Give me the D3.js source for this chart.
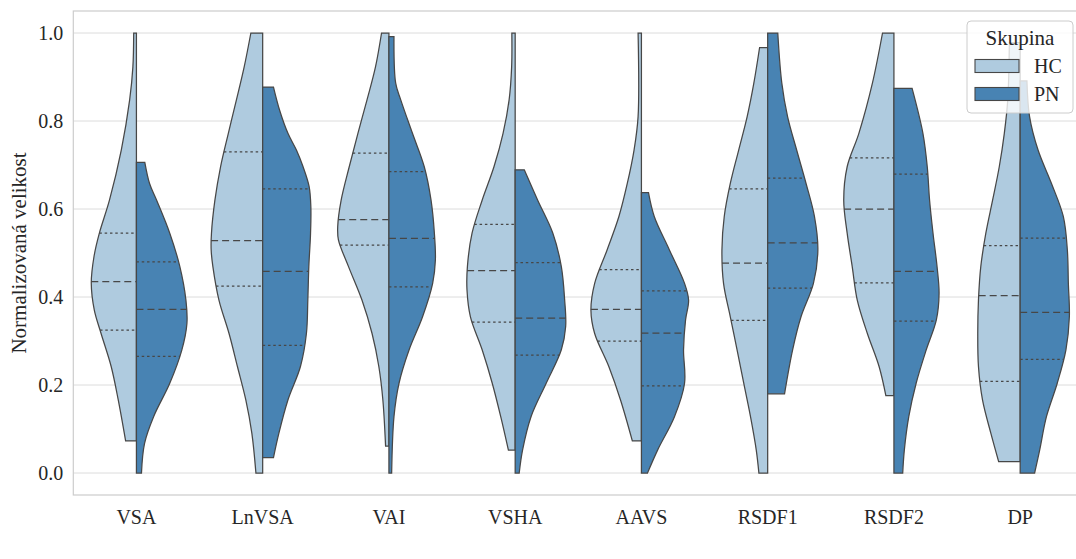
<!DOCTYPE html>
<html><head><meta charset="utf-8">
<script src="https://cdn.jsdelivr.net/npm/d3@7"></script>
<style>body{margin:0;background:#fff;}</style></head>
<body><svg id="viz" width="1076" height="559"></svg>
<script>
const categories = ["VSA","LnVSA","VAI","VSHA","AAVS","RSDF1","RSDF2","DP"];
const groups = ["HC","PN"];
const yTicks = [0,0.2,0.4,0.6,0.8,1.0];
const yTickLabels = ["0.0","0.2","0.4","0.6","0.8","1.0"];
const yLabel = "Normalizovaná velikost";
const legendTitle = "Skupina";

// density profiles: [value, relative density]
const vsaHC = [[1.0,2.7],[0.923,3.5],[0.848,6.7],[0.734,15],[0.62,26.7],[0.545,36.7],[0.492,42],[0.431,44.7],[0.37,41.7],[0.317,35],[0.242,25],[0.166,18],[0.073,10.7]];
const vsaPN = [[0.706,8.3],[0.658,13],[0.62,20],[0.545,33],[0.469,43],[0.393,49],[0.34,50],[0.28,45],[0.204,33],[0.128,17],[0.067,8],[0,5]];
const lnvsaHC = [[1.0,11.7],[0.923,18.3],[0.848,26],[0.772,34],[0.696,41.7],[0.62,47.3],[0.545,50.7],[0.507,51],[0.469,49.3],[0.393,43.3],[0.317,33.3],[0.242,25],[0.166,16.7],[0.09,10.7],[0,6.7]];
const lnvsaPN = [[0.877,10.7],[0.825,16.7],[0.772,25],[0.734,33.4],[0.696,40],[0.651,46],[0.605,47.7],[0.545,47.4],[0.469,45.7],[0.393,44.7],[0.317,43.3],[0.242,37.4],[0.166,25],[0.09,16],[0.035,10.7]];
const vaiHC = [[1.0,7.3],[0.923,13.3],[0.848,21.7],[0.772,30.7],[0.696,39.3],[0.62,47.3],[0.56,50.7],[0.53,50],[0.469,40],[0.393,26.7],[0.317,16.7],[0.242,10],[0.166,6],[0.061,3.3]];
const vaiPN = [[0.992,5],[0.886,6.7],[0.848,11.7],[0.772,23.3],[0.696,35],[0.62,41.7],[0.545,45],[0.484,46],[0.431,43.3],[0.355,33.3],[0.28,20],[0.204,10],[0.128,5],[0,2.7]];
const vshaHC = [[1.0,3.3],[0.923,3.5],[0.848,6],[0.772,12],[0.696,21],[0.62,32.7],[0.545,42.7],[0.469,47.3],[0.416,47.7],[0.355,44.3],[0.28,32.7],[0.204,22.7],[0.128,14.3],[0.052,6.7]];
const vshaPN = [[0.689,9],[0.62,22.3],[0.545,37.3],[0.469,45.7],[0.393,49],[0.333,50],[0.28,45.7],[0.204,30.7],[0.128,15.7],[0.052,7.3],[0,4]];
const aavsHC = [[1.0,3.3],[0.81,3.3],[0.734,7.3],[0.658,14],[0.583,22.3],[0.507,34],[0.431,46.3],[0.37,50],[0.317,46.3],[0.242,32.3],[0.166,20.7],[0.073,9]];
const aavsPN = [[0.637,7],[0.583,12.7],[0.507,27.7],[0.431,42.7],[0.393,46.7],[0.348,43.7],[0.28,41.7],[0.204,42.7],[0.128,32.7],[0.052,16],[0,6]];
const rsdf1HC = [[0.967,8],[0.886,13.7],[0.81,20.3],[0.734,28.7],[0.658,37],[0.583,43],[0.507,45.3],[0.431,43.7],[0.355,37],[0.28,30.3],[0.204,23.7],[0.128,17],[0.052,11.3],[0,8.7]];
const rsdf1PN = [[1.0,10],[0.886,14],[0.81,19.7],[0.734,28.7],[0.658,38],[0.583,46.3],[0.507,49.7],[0.431,45.3],[0.355,33],[0.28,24.7],[0.18,16.7]];
const rsdf2HC = [[1.0,11.3],[0.886,21.3],[0.772,34.7],[0.696,46.3],[0.62,49.7],[0.545,46.3],[0.469,41.3],[0.393,36.3],[0.317,26.3],[0.242,14.7],[0.176,8]];
const rsdf2PN = [[0.874,18],[0.772,28.7],[0.696,33],[0.62,35.3],[0.545,38.7],[0.469,42.7],[0.408,44.7],[0.348,42],[0.28,32],[0.204,22],[0.128,14.7],[0.052,10.3],[0,8.7]];
const dpHC = [[0.978,10.7],[0.848,12.3],[0.772,15.7],[0.696,20.7],[0.62,27.3],[0.545,34],[0.469,39],[0.393,41.3],[0.317,42],[0.242,41.3],[0.166,37.3],[0.09,29],[0.026,21.3]];
const dpPN = [[0.891,6.7],[0.81,9.3],[0.734,17.7],[0.658,31],[0.583,42.7],[0.507,46.7],[0.431,47.7],[0.355,48.7],[0.28,45.3],[0.204,36.7],[0.128,26],[0.052,19.3],[0,14.3]];

// quartiles [q1, median, q3]
const quartHC = [[0.325,0.435,0.545],[0.425,0.528,0.73],[0.518,0.576,0.727],[0.343,0.46,0.565],[0.3,0.372,0.462],[0.347,0.477,0.646],[0.432,0.6,0.716],[0.208,0.403,0.517]];
const quartPN = [[0.265,0.372,0.48],[0.29,0.458,0.646],[0.423,0.533,0.685],[0.268,0.352,0.478],[0.198,0.318,0.414],[0.42,0.523,0.67],[0.345,0.458,0.679],[0.258,0.365,0.534]];

const densHC = [vsaHC,lnvsaHC,vaiHC,vshaHC,aavsHC,rsdf1HC,rsdf2HC,dpHC];
const densPN = [vsaPN,lnvsaPN,vaiPN,vshaPN,aavsPN,rsdf1PN,rsdf2PN,dpPN];
const colors = {HC:"#afcbdf", PN:"#4883b3"};
const edge = "#474747";
const TXT = "#262626";
function serif(sel) {
  return sel.attr("font-family", "Times New Roman")
    .style("font-family", '"Liberation Serif", "Times New Roman", Tinos, Times', "important");
}

const svg = d3.select("#viz");
const L = 73.3, R = 1083.3, T = 11, B = 495;
const x = d3.scaleBand().domain(categories).range([L, R]).paddingInner(0).paddingOuter(0);
const y = d3.scaleLinear().domain([-0.05, 1.05]).range([B, T]);
const w = d3.scaleLinear().domain([0, 50]).range([0, x.bandwidth() * 0.4]);
const curve = d3.curveCatmullRom.alpha(0.5);

svg.append("g").selectAll("line").data(yTicks).join("line")
  .attr("x1", L).attr("x2", R).attr("y1", d => y(d)).attr("y2", d => y(d))
  .attr("stroke", "#dcdcdc").attr("stroke-width", 1);
svg.append("rect").attr("x", L).attr("y", T).attr("width", R - L).attr("height", B - T)
  .attr("fill", "none").attr("stroke", "#cccccc").attr("stroke-width", 1.2);

svg.append("g").selectAll("text").data(yTicks).join("text")
  .attr("x", L - 10).attr("y", d => y(d)).attr("dy", "0.35em")
  .attr("text-anchor", "end").style("font-size", "20px").attr("fill", TXT)
  .call(serif).text((d, i) => yTickLabels[i]);
svg.append("g").selectAll("text").data(categories).join("text")
  .attr("x", d => x(d) + x.bandwidth() / 2).attr("y", 524)
  .attr("text-anchor", "middle").style("font-size", "20px").attr("fill", TXT)
  .call(serif).text(d => d);
svg.append("text").attr("transform", `translate(26,${(T + B) / 2}) rotate(-90)`)
  .attr("text-anchor", "middle").style("font-size", "21px").attr("fill", TXT)
  .call(serif).text(yLabel);

const vg = svg.append("g");
categories.forEach((cat, ci) => {
  const cx = x(cat) + x.bandwidth() / 2;
  groups.forEach((grp, gi) => {
    const dens = gi === 0 ? densHC[ci] : densPN[ci];
    const q = gi === 0 ? quartHC[ci] : quartPN[ci];
    const sgn = gi === 0 ? -1 : 1;
    const area = d3.area().curve(curve)
      .y(d => y(d[0])).x0(cx).x1(d => cx + sgn * w(d[1]));
    vg.append("path").attr("d", area(dens))
      .attr("fill", colors[grp]).attr("stroke", edge).attr("stroke-width", 1.25)
      .attr("stroke-linejoin", "miter");
    const edgeLine = d3.line().curve(curve).x(d => cx + sgn * w(d[1])).y(d => y(d[0]));
    const hp = vg.append("path").attr("d", edgeLine(dens)).attr("fill", "none").attr("stroke", "none").node();
    const total = hp.getTotalLength();
    function xAt(val) {
      const ty = y(val);
      let lo = 0, hi = total;
      for (let k = 0; k < 40; k++) {
        const mid = (lo + hi) / 2;
        const p = hp.getPointAtLength(mid);
        if (p.y < ty) lo = mid; else hi = mid;
      }
      return hp.getPointAtLength((lo + hi) / 2).x;
    }
    q.forEach((qv, qi) => {
      const ex = xAt(qv);
      vg.append("line")
        .attr("x1", gi === 0 ? ex : cx).attr("x2", gi === 0 ? cx : ex)
        .attr("y1", y(qv)).attr("y2", y(qv))
        .attr("stroke", edge).attr("stroke-width", 1.25)
        .attr("stroke-dasharray", qi === 1 ? "7,4" : "2.5,2.8");
    });
  });
});

const lg = svg.append("g");
lg.append("rect").attr("x", 967).attr("y", 21).attr("width", 106).attr("height", 92)
  .attr("rx", 4).attr("fill", "rgba(255,255,255,0.8)").attr("stroke", "#cccccc").attr("stroke-width", 1);
lg.append("text").attr("x", 1020).attr("y", 45).attr("text-anchor", "middle").style("font-size", "21px")
  .attr("fill", TXT).call(serif).text(legendTitle);
groups.forEach((grp, i) => {
  lg.append("rect").attr("x", 975).attr("y", 59.5 + i * 28).attr("width", 44).attr("height", 13)
    .attr("fill", colors[grp]).attr("stroke", edge).attr("stroke-width", 1.1);
  lg.append("text").attr("x", 1034).attr("y", 73 + i * 28).style("font-size", "20px")
    .attr("fill", TXT).call(serif).text(grp);
});
</script></body></html>
